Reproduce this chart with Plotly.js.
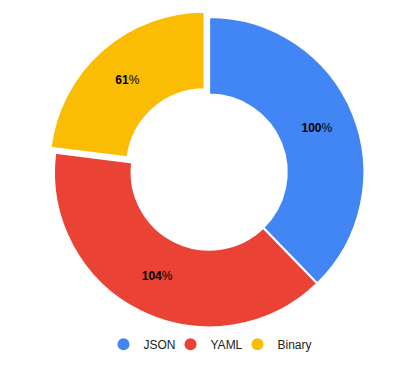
<!DOCTYPE html>
<html>
<head>
<meta charset="utf-8">
<script src="https://cdn.plot.ly/plotly-3.0.1.min.js"></script>
<style>html,body{margin:0;padding:0;background:#fff;}#chart{width:420px;height:371px;}</style>
</head>
<body>
<div id="chart"></div>
<script>
const categories = ['JSON', 'YAML', 'Binary'];
const values = [100, 104, 61];
const colors = ['#4285F4', '#EA4335', '#FBBC04'];
const pulls = [0, 0, 0.045];

const traces = [{
  type: 'pie',
  labels: categories,
  values: values,
  sort: false,
  direction: 'clockwise',
  rotation: 0,
  hole: 0.5,
  pull: pulls,
  marker: {colors: colors, line: {color: '#ffffff', width: 2}},
  texttemplate: '<b>%{value}</b>%',
  textposition: 'inside',
  insidetextorientation: 'horizontal',
  textfont: {family: 'Liberation Sans, Arial, sans-serif', size: 12, color: '#000000'},
  hoverinfo: 'none',
  showlegend: false,
  domain: {x: [0.112, 0.884], y: [0.099, 0.973]}
}];

categories.forEach((c, i) => {
  traces.push({
    type: 'scatter',
    mode: 'markers',
    x: [null], y: [null],
    name: c,
    marker: {symbol: 'circle', size: 12, color: colors[i]},
    hoverinfo: 'none',
    showlegend: true
  });
});
// invisible spacer entry so the last legend label is not clipped
traces.push({
  type: 'scatter', mode: 'markers', x: [null], y: [null], name: ' ',
  marker: {size: 12, color: 'rgba(0,0,0,0)'}, hoverinfo: 'none', showlegend: true
});

const layout = {
  width: 420, height: 371,
  margin: {l: 0, r: 0, t: 0, b: 0},
  paper_bgcolor: '#ffffff',
  plot_bgcolor: '#ffffff',
  xaxis: {visible: false},
  yaxis: {visible: false},
  showlegend: true,
  legend: {
    orientation: 'h',
    x: 0.5655, xanchor: 'center',
    y: 0.072, yanchor: 'middle',
    font: {family: 'Liberation Sans, Arial, sans-serif', size: 12, color: '#222222'},
    itemsizing: 'constant',
    entrywidth: 22,
    entrywidthmode: 'pixels'
  }
};

Plotly.newPlot('chart', traces, layout, {displayModeBar: false, staticPlot: true});
</script>
</body>
</html>
